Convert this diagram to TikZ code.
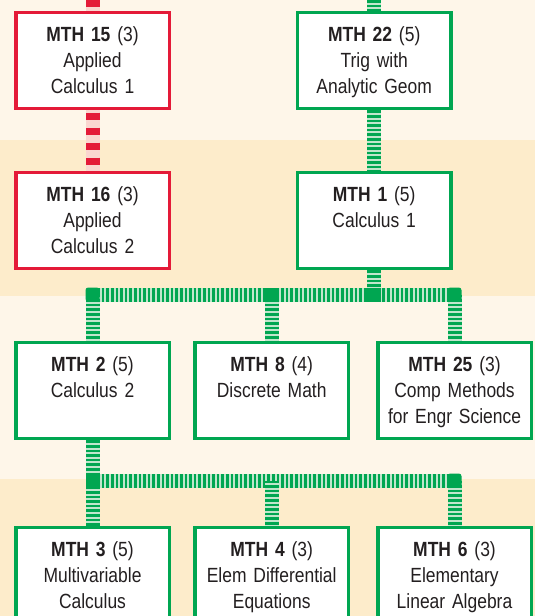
\documentclass[tikz,border=0pt]{standalone}
\usepackage{fontspec}
\setmainfont{Liberation Sans}[FakeStretch=0.85,WordSpace=0.75]

\definecolor{lightband}{RGB}{254,246,233}
\definecolor{darkband}{RGB}{253,236,203}
\definecolor{mthgreen}{RGB}{0,166,81}
\definecolor{mthmint}{RGB}{192,230,204}
\definecolor{mthred}{RGB}{228,26,56}
\definecolor{mthpink}{RGB}{250,214,208}
\definecolor{mthtext}{RGB}{35,31,32}

\pgfdeclarelayer{under}
\pgfsetlayers{under,main}

\tikzset{every picture/.style={line width=0.75pt}}
\tikzset{
  course/.style={draw, fill=white, line width=2.5pt, inner sep=0pt, anchor=north,
    text width=115pt, align=center, text height=21.75pt, text depth=50.25pt,
    text=mthtext, font=\fontsize{15.4}{19.5}\selectfont},
  green course/.style={course, draw=mthgreen},
  red course/.style={course, draw=mthred},
  green link/.style={draw=mthmint, line width=10.5pt,
    postaction={draw=mthgreen, line width=10.5pt, dash pattern=on 1.95pt off 1.5pt}},
  red link/.style={draw=mthpink, line width=10.5pt,
    postaction={draw=mthred, line width=10.5pt, dash pattern=on 5.6pt off 5.6pt}},
  joint/.style={fill=mthgreen, minimum size=10.5pt, inner sep=0pt},
  end joint/.style={joint, rounded corners=2pt}
}

\begin{document}
\begin{tikzpicture}[x=0.75pt,y=0.75pt,yscale=-1,xscale=1]
	\clip (0,0) rectangle (535,616);

	% Text Node
	\node[red course] (mth15) at (92.5,11) {\textbf{MTH 15} (3)\\Applied\\Calculus 1};
	% Text Node
	\node[green course] (mth22) at (374.2,11) {\textbf{MTH 22} (5)\\Trig with\\Analytic Geom};
	% Text Node
	\node[red course] (mth16) at (92.5,171) {\textbf{MTH 16} (3)\\Applied\\Calculus 2};
	% Text Node
	\node[green course] (mth1) at (374.2,171) {\textbf{MTH 1} (5)\\Calculus 1};
	% Text Node
	\node[green course] (mth2) at (92.5,341) {\textbf{MTH 2} (5)\\Calculus 2};
	% Text Node
	\node[green course] (mth8) at (271.7,341) {\textbf{MTH 8} (4)\\Discrete Math};
	% Text Node
	\node[green course] (mth25) at (454.5,341) {\textbf{MTH 25} (3)\\Comp Methods\\for Engr Science};
	% Text Node
	\node[green course] (mth3) at (92.5,526) {\textbf{MTH 3} (5)\\Multivariable\\Calculus};
	% Text Node
	\node[green course] (mth4) at (271.7,526) {\textbf{MTH 4} (3)\\Elem Differential\\Equations};
	% Text Node
	\node[green course] (mth6) at (454.5,526) {\textbf{MTH 6} (3)\\Elementary\\Linear Algebra};

	\coordinate (top15) at (92.5,0);
	\coordinate (top22) at (374.2,0);
	\coordinate (bus1) at (0,294.5);
	\coordinate (bus2) at (0,480.5);

	\begin{pgfonlayer}{under}
	%Shape: Rectangle (bands)
	\fill[lightband] (0,0) rectangle (535,140);
	\fill[darkband] (0,140) rectangle (535,296);
	\fill[lightband] (0,296) rectangle (535,479);
	\fill[darkband] (0,479) rectangle (535,616);

	%Straight Lines
	\draw[red link] (top15) -- (mth15.north);
	\draw[red link, dash phase=9.4pt] (mth15.south) -- (mth16.north);
	\draw[green link] (top22) -- (mth22.north);
	\draw[green link] (mth22.south) -- (mth1.north);
	\draw[green link] (mth1.south) -- (mth1.south |- bus1);
	\draw[green link] (mth2.north |- bus1) -- (mth25.north |- bus1);
	\foreach \c in {mth2,mth8,mth25}
		\draw[green link] (\c.north |- bus1) -- (\c.north);
	\draw[green link] (mth2.south) -- (mth3.north);
	\draw[green link] (mth3.north |- bus2) -- (mth6.north |- bus2);
	\foreach \c in {mth4,mth6}
		\draw[green link] (\c.north |- bus2) -- (\c.north);

	%Shape: Square (junctions)
	\node[end joint] (j21) at (mth2.north |- bus1) {};
	\node[joint] (j81) at (mth8.north |- bus1) {};
	\node[joint] (j11) at (mth1.south |- bus1) {};
	\node[end joint] (j251) at (mth25.north |- bus1) {};
	\node[joint] (j32) at (mth3.north |- bus2) {};
	\node[end joint] (j62) at (mth6.north |- bus2) {};
	\end{pgfonlayer}

\end{tikzpicture}
\end{document}
